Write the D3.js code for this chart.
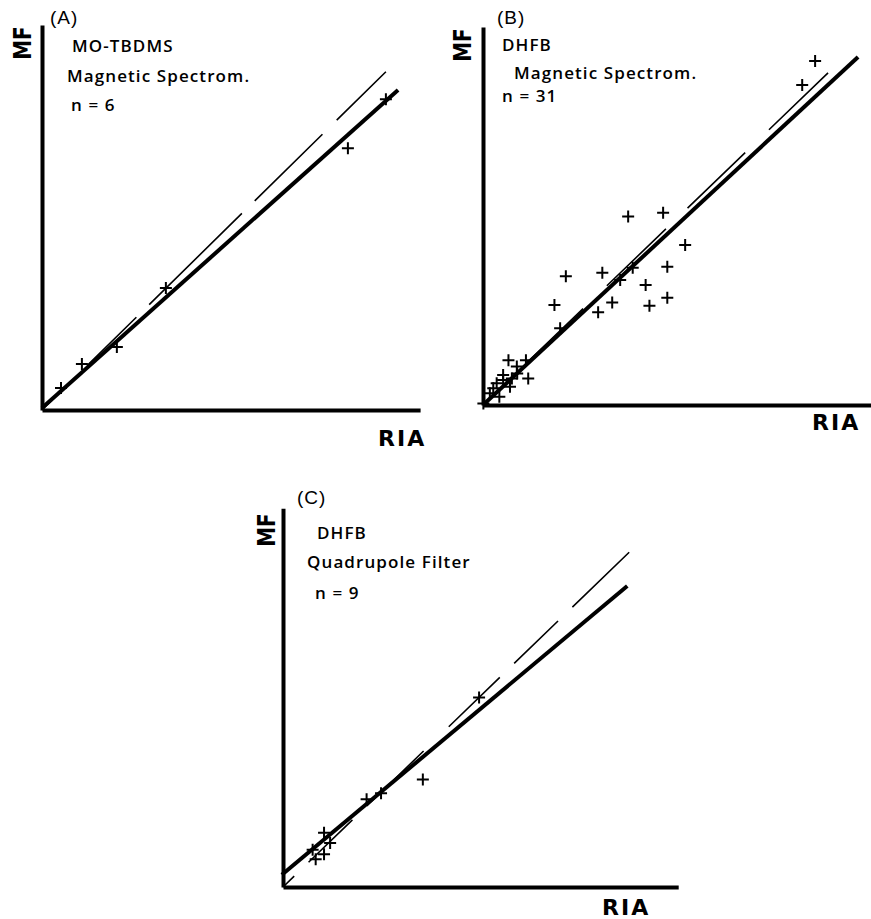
<!DOCTYPE html>
<html>
<head>
<meta charset="utf-8">
<script src="https://cdn.jsdelivr.net/npm/d3@7"></script>
<style>
  body { margin: 0; background: #fff; }
  svg { display: block; }
</style>
</head>
<body>
<svg width="871" height="919"></svg>
<script>
// values, in common (arbitrary) units for RIA (x) and MF (y)
const pointsA = [[5.0,5.8],[10.5,12.1],[19.7,16.6],[32.6,32.1],[80.5,68.9],[90.5,81.8]];
const fitA = [[0,0.5],[93.7,84.2]];
const identA = [[90.5,89],[0,0]];

const pointsB = [
  [87.4,90.5],[84.0,84.2],[38.2,49.6],[47.4,50.6],[53.2,42.1],[21.8,33.9],
  [31.4,34.8],[39.4,36.1],[48.5,36.4],[36.1,32.9],[42.8,31.6],[18.8,26.3],
  [34.0,27.0],[43.8,26.1],[48.5,28.2],[30.3,24.4],[20.3,20.2],[6.7,11.8],
  [11.3,11.8],[8.9,10.1],[9.0,8.3],[11.9,7.0],[7.6,7.0],[5.3,6.6],
  [3.6,5.7],[7.1,4.8],[2.7,4.4],[4.3,2.2],[0.1,0.4],[5.3,7.9],[1.8,3.1]
];
const fitB = [[0,0],[98.7,91.6]];
const identB = [[90.8,87.4],[0,0]];

const pointsC = [[51.6,49.9],[36.8,28.3],[25.8,24.7],[22.0,23.1],[10.8,14.3],
  [12.4,11.6],[7.8,9.8],[10.8,8.6],[8.6,7.3]];
const fitC = [[-0.3,3.2],[90.6,79.2]];
const identC = [[91.1,88.1],[0,0]];

const tagsA = ['MO-TBDMS', 'Magnetic Spectrom.', 'n = 6'];
const tagsB = ['DHFB', 'Magnetic Spectrom.', 'n = 31'];
const tagsC = ['DHFB', 'Quadrupole Filter', 'n = 9'];

const unit = 3.8; // px per unit

const panels = [
  { letter: '(A)', points: pointsA, fit: fitA, ident: identA, tags: tagsA,
    ox: 42, oy: 410, xMax: 99.5, yMax: 101.3,
    letterPos: [50, 24], tagPos: [[72, 52], [67, 82], [71, 111]],
    riaPos: [378, 446], mfPos: [31, 43], dash: '69,20,95,18,130,18' },
  { letter: '(B)', points: pointsB, fit: fitB, ident: identB, tags: tagsB,
    ox: 483, oy: 405, xMax: 102, yMax: 99.5,
    letterPos: [497, 24], tagPos: [[502, 51], [514, 79], [502, 102]],
    riaPos: [812, 430], mfPos: [471, 45], dash: '82,33,80,30' },
  { letter: '(C)', points: pointsC, fit: fitC, ident: identC, tags: tagsC,
    ox: 283, oy: 887, xMax: 104, yMax: 99.7,
    letterPos: [297, 504], tagPos: [[317, 539], [307, 568], [315, 599]],
    riaPos: [602, 915], mfPos: [275, 530], dash: '79,20,61,20,71,35' }
];

const svg = d3.select('svg');

panels.forEach((p) => {
  const x = d3.scaleLinear().domain([0, p.xMax]).range([p.ox, p.ox + p.xMax * unit]);
  const y = d3.scaleLinear().domain([0, p.yMax]).range([p.oy, p.oy - p.yMax * unit]);
  const g = svg.append('g');

  // axes: bare heavy lines, no ticks
  g.append('g')
    .attr('transform', `translate(0,${p.oy})`)
    .call(d3.axisBottom(x).tickValues([]).tickSizeOuter(0))
    .call(a => a.select('.domain').attr('stroke', '#000').attr('stroke-width', 4));
  g.append('g')
    .attr('transform', `translate(${p.ox},0)`)
    .call(d3.axisLeft(y).tickValues([]).tickSizeOuter(0))
    .call(a => a.select('.domain').attr('stroke', '#000').attr('stroke-width', 4));

  const line = d3.line().x(d => x(d[0])).y(d => y(d[1]));

  // line of identity (dashed)
  g.append('path')
    .attr('d', line(p.ident))
    .attr('fill', 'none')
    .attr('stroke', '#000')
    .attr('stroke-width', 1.6)
    .attr('stroke-dasharray', p.dash);

  // regression line
  g.append('path')
    .attr('d', line(p.fit))
    .attr('fill', 'none')
    .attr('stroke', '#000')
    .attr('stroke-width', 4);

  // data points
  g.selectAll('path.pt')
    .data(p.points)
    .enter().append('path')
      .attr('class', 'pt')
      .attr('transform', d => `translate(${x(d[0])},${y(d[1])})`)
      .attr('d', 'M-6,0H6M0,-6V6')
      .attr('stroke', '#000')
      .attr('stroke-width', 2);

  g.append('text')
    .attr('x', p.letterPos[0]).attr('y', p.letterPos[1])
    .attr('font-family', 'Liberation Sans, Arial, sans-serif')
    .attr('font-size', 19)
    .attr('letter-spacing', 1)
    .text(p.letter);

  p.tags.forEach((t, i) => {
    g.append('text')
      .attr('x', p.tagPos[i][0]).attr('y', p.tagPos[i][1])
      .attr('font-family', 'Open Sans, sans-serif')
      .attr('font-weight', 600)
      .attr('font-size', 17)
      .attr('letter-spacing', 1.1)
      .text(t);
  });

  g.append('text')
    .attr('x', p.riaPos[0]).attr('y', p.riaPos[1])
    .attr('font-family', 'DejaVu Sans, sans-serif')
    .attr('font-weight', 'bold')
    .attr('font-size', 22)
    .attr('letter-spacing', 2)
    .text('RIA');

  g.append('text')
    .attr('transform', `translate(${p.mfPos[0]},${p.mfPos[1]}) rotate(-90) scale(0.8,1)`)
    .attr('text-anchor', 'middle')
    .attr('font-family', 'DejaVu Sans, sans-serif')
    .attr('font-weight', 'bold')
    .attr('font-size', 25)
    .text('MF');
});
</script>
</body>
</html>
